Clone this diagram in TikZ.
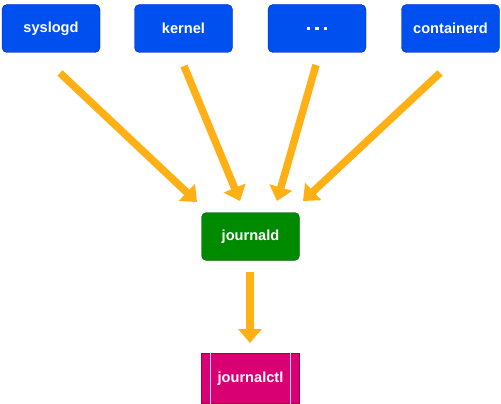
\documentclass[tikz,border=0pt]{standalone}
\usepackage{fontspec}
\setmainfont{Liberation Sans}
\usetikzlibrary{arrows.meta}
\definecolor{srcblue}{HTML}{0050EF}
\definecolor{srcedge}{HTML}{001DBC}
\definecolor{jgreen}{HTML}{008A00}
\definecolor{jedge}{HTML}{005700}
\definecolor{ctlpink}{HTML}{D80073}
\definecolor{ctledge}{HTML}{A50040}
\definecolor{flow}{HTML}{FFB014}
\newcommand{\sqdot}{\rule{3.5pt}{3.5pt}}
\tikzset{
  srcbox/.style={draw=srcedge,fill=srcblue,rounded corners=5pt,minimum width=98pt,minimum height=48pt,
    text=white,font=\bfseries\fontsize{14.6}{16}\selectfont,inner sep=0pt},
  jbox/.style={srcbox,draw=jedge,fill=jgreen},
  ctlbox/.style={draw=ctledge,fill=ctlpink,minimum width=98pt,minimum height=50pt,
    text=white,font=\bfseries\fontsize{14.6}{16}\selectfont,inner sep=0pt},
  flowarrow/.style={draw=flow,line width=7.5pt,-{Triangle[length=14pt,width=23pt]}}
}
\begin{document}
\begin{tikzpicture}[x=1pt,y=-1pt]
\useasboundingbox (0,0) rectangle (501,404);
\node[srcbox] (syslogd) at (51,28.5) {syslogd};
\node[srcbox] (kernel) at (183.5,28.5) {kernel};
\node[srcbox] (dots) at (317,28.5) {\sqdot\hspace{5pt}\sqdot\hspace{5pt}\sqdot};
\node[srcbox] (containerd) at (450.5,28.5) {containerd};
\node[jbox] (journald) at (250.5,236.5) {journald};
\node[ctlbox] (journalctl) at (250.5,378.5) {journalctl};
\draw[white!80!ctlpink,line width=1pt] ([xshift=9pt]journalctl.north west) -- ([xshift=9pt]journalctl.south west);
\draw[white!80!ctlpink,line width=1pt] ([xshift=-9pt]journalctl.north east) -- ([xshift=-9pt]journalctl.south east);
\coordinate (f1) at (60,73);
\coordinate (f2) at (184,66);
\coordinate (f3) at (316,65);
\coordinate (f4) at (440,73);
\coordinate (t1) at (197,202);
\coordinate (t2) at (240,201);
\coordinate (t3) at (277,201);
\coordinate (t4) at (303,201);
\coordinate (f5) at (250,272);
\coordinate (t5) at (250,343);
\draw[flowarrow] (f1) -- (t1);
\draw[flowarrow] (f2) -- (t2);
\draw[flowarrow] (f3) -- (t3);
\draw[flowarrow] (f4) -- (t4);
\draw[flowarrow] (f5) -- (t5);
\end{tikzpicture}
\end{document}
